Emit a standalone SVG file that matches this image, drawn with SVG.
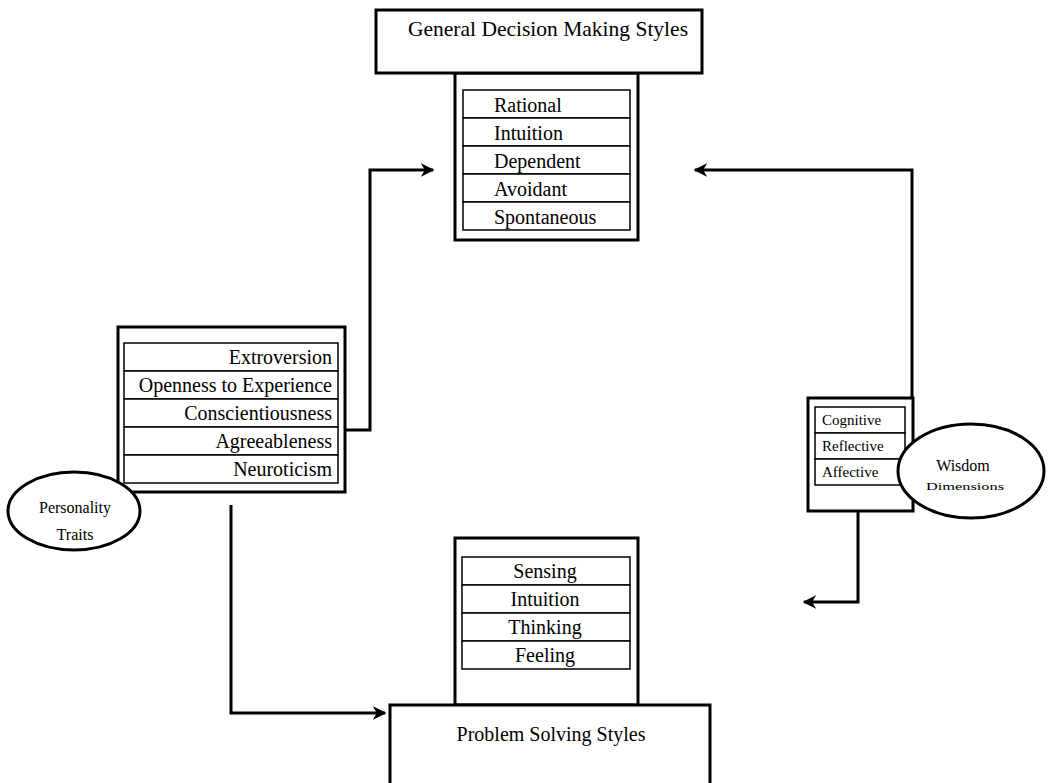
<svg xmlns="http://www.w3.org/2000/svg" width="1053" height="783" viewBox="0 0 1053 783">
<style>
.frame{fill:#fff;stroke:#000;stroke-width:3}
.tbl{fill:#fff;stroke:#000;stroke-width:1.5}
.conn{fill:none;stroke:#000;stroke-width:3}
text{font-family:"Liberation Serif","Times New Roman",serif;font-size:20px;fill:#000}
.c{text-anchor:middle}
.r{text-anchor:end}
.h{font-size:21.5px}
.s{font-size:15px}
.p{font-size:16px}
</style>
<defs>
<marker id="ah" viewBox="0 0 10 10" refX="9" refY="5" markerWidth="4.5" markerHeight="4.5" orient="auto" markerUnits="strokeWidth">
<path d="M0,0 L10,5 L0,10 L3,5 Z" fill="#000"/>
</marker>
</defs>
<rect width="1053" height="783" fill="#fff"/>
<g id="connectors">
<path class="conn" d="M345,430 H370 V170 H433" marker-end="url(#ah)"/>
<path class="conn" d="M912,398 V170 H695" marker-end="url(#ah)"/>
<path class="conn" d="M231,505 V713 H385" marker-end="url(#ah)"/>
<path class="conn" d="M858,511 V602 H804" marker-end="url(#ah)"/>
</g>
<g id="decision">
<rect class="frame" x="455" y="73" width="183" height="167"/>
<rect class="frame" x="376" y="10" width="326" height="63"/>
<text class="c h" x="548" y="36">General Decision Making Styles</text>
<rect class="tbl" x="463" y="90" width="167" height="28"/>
<rect class="tbl" x="463" y="118" width="167" height="28"/>
<rect class="tbl" x="463" y="146" width="167" height="28"/>
<rect class="tbl" x="463" y="174" width="167" height="28"/>
<rect class="tbl" x="463" y="202" width="167" height="28"/>
<text x="494" y="112">Rational</text>
<text x="494" y="140">Intuition</text>
<text x="494" y="168">Dependent</text>
<text x="494" y="196">Avoidant</text>
<text x="494" y="224">Spontaneous</text>
</g>
<g id="personality">
<rect class="frame" x="118" y="327" width="227" height="165"/>
<rect class="tbl" x="124" y="343" width="214" height="28"/>
<rect class="tbl" x="124" y="371" width="214" height="28"/>
<rect class="tbl" x="124" y="399" width="214" height="28"/>
<rect class="tbl" x="124" y="427" width="214" height="28"/>
<rect class="tbl" x="124" y="455" width="214" height="28"/>
<text class="r" x="332" y="364">Extroversion</text>
<text class="r" x="332" y="392">Openness to Experience</text>
<text class="r" x="332" y="420">Conscientiousness</text>
<text class="r" x="332" y="448">Agreeableness</text>
<text class="r" x="332" y="476">Neuroticism</text>
<ellipse class="frame" cx="74" cy="511" rx="66" ry="39"/>
<text class="c p" x="75" y="513">Personality</text>
<text class="c p" x="75" y="540">Traits</text>
</g>
<g id="wisdom">
<rect class="frame" x="808" y="398" width="105" height="113"/>
<rect class="tbl" x="815" y="407" width="90" height="26"/>
<rect class="tbl" x="815" y="433" width="90" height="26"/>
<rect class="tbl" x="815" y="459" width="90" height="26"/>
<text class="s" x="822" y="425">Cognitive</text>
<text class="s" x="822" y="451">Reflective</text>
<text class="s" x="822" y="477">Affective</text>
<ellipse class="frame" cx="971" cy="471" rx="73" ry="47"/>
<text class="c p" x="963" y="471">Wisdom</text>
<text class="c" x="965" y="490" style="font-size:11px" textLength="78" lengthAdjust="spacingAndGlyphs">Dimensions</text>
</g>
<g id="problem">
<rect class="frame" x="455" y="538" width="183" height="167"/>
<rect class="tbl" x="462" y="557" width="168" height="28"/>
<rect class="tbl" x="462" y="585" width="168" height="28"/>
<rect class="tbl" x="462" y="613" width="168" height="28"/>
<rect class="tbl" x="462" y="641" width="168" height="28"/>
<text class="c" x="545" y="578">Sensing</text>
<text class="c" x="545" y="606">Intuition</text>
<text class="c" x="545" y="634">Thinking</text>
<text class="c" x="545" y="662">Feeling</text>
<rect class="frame" x="390" y="705" width="320" height="85"/>
<text class="c" x="551" y="741">Problem Solving Styles</text>
</g>
</svg>
